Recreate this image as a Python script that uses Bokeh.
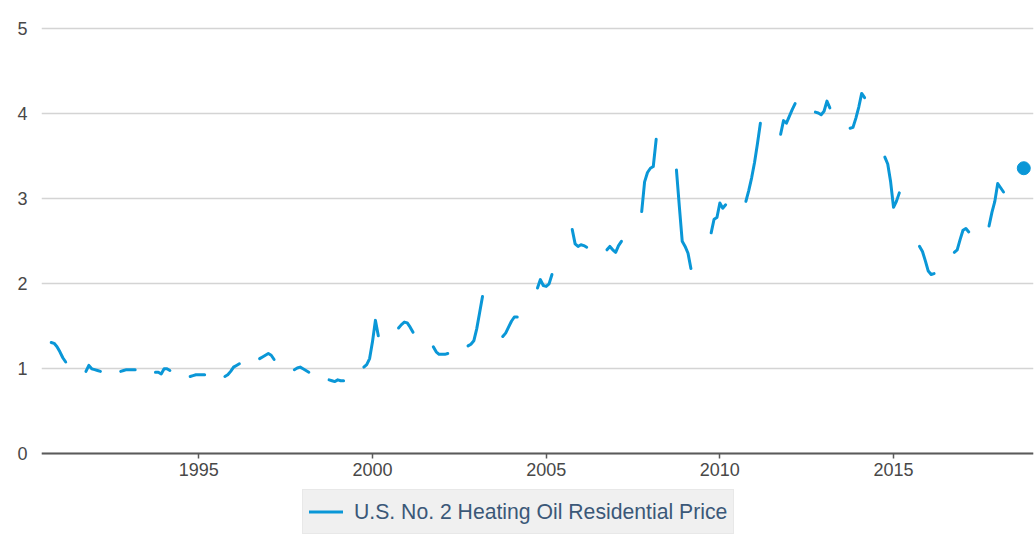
from bokeh.plotting import figure
from bokeh.models import Range1d, FixedTicker, Legend, LegendItem
from bokeh.embed import file_html
from bokeh.resources import INLINE

# Heating seasons (first year of season); monthly data Oct..Mar
season_start_years = [1990, 1991, 1992, 1993, 1994, 1995, 1996, 1997, 1998, 1999,
                      2000, 2001, 2002, 2003, 2004, 2005, 2006, 2007, 2008, 2009,
                      2010, 2011, 2012, 2013, 2014, 2015, 2016, 2017, 2018]
season_months = ["Oct", "Nov", "Dec", "Jan", "Feb", "Mar"]
month_offsets = [9, 10, 11, 12, 13, 14]  # months after Jan of the season's first year

# U.S. No. 2 heating oil residential price ($/gal), per season
prices = [
    [1.31, 1.30, 1.26, 1.20, 1.13, 1.08],
    [0.97, 1.04, 1.00, 0.99, 0.98, 0.97],
    [0.97, 0.98, 0.99, 0.99, 0.99, 0.99],
    [0.96, 0.96, 0.94, 1.00, 1.00, 0.98],
    [0.91, 0.92, 0.93, 0.93, 0.93, 0.93],
    [0.91, 0.93, 0.97, 1.02, 1.04, 1.06],
    [1.12, 1.14, 1.16, 1.18, 1.16, 1.11],
    [0.99, 1.01, 1.02, 1.00, 0.98, 0.96],
    [0.87, 0.86, 0.85, 0.87, 0.86, 0.86],
    [1.02, 1.05, 1.12, 1.32, 1.57, 1.39],
    [1.48, 1.52, 1.55, 1.54, 1.49, 1.43],
    [1.26, 1.20, 1.17, 1.17, 1.17, 1.18],
    [1.27, 1.29, 1.33, 1.47, 1.66, 1.85],
    [1.38, 1.42, 1.49, 1.56, 1.61, 1.61],
    [1.95, 2.05, 1.98, 1.97, 2.00, 2.11],
    [2.64, 2.47, 2.44, 2.46, 2.45, 2.43],
    [2.40, 2.44, 2.40, 2.37, 2.45, 2.50],
    [2.85, 3.20, 3.31, 3.36, 3.38, 3.70],
    [3.34, 2.91, 2.50, 2.44, 2.36, 2.18],
    [2.60, 2.76, 2.78, 2.95, 2.89, 2.93],
    [2.97, 3.10, 3.25, 3.43, 3.65, 3.89],
    [3.76, 3.92, 3.89, 3.97, 4.05, 4.12],
    [4.02, 4.01, 3.99, 4.03, 4.15, 4.07],
    [3.83, 3.84, 3.95, 4.08, 4.24, 4.19],
    [3.49, 3.41, 3.20, 2.90, 2.97, 3.07],
    [2.44, 2.38, 2.27, 2.15, 2.11, 2.12],
    [2.37, 2.40, 2.52, 2.63, 2.65, 2.61],
    [2.68, 2.84, 2.97, 3.18, 3.13, 3.08],
    [3.36],
]

x_tick_years = [1995, 2000, 2005, 2010, 2015]
y_ticks = [0, 1, 2, 3, 4, 5]
series_label = "U.S. No. 2 Heating Oil Residential Price"

BLUE = "#0a97d7"
FONT = "Liberation Sans"

# Build segments
xs, ys, px, py = [], [], [], []
for start, vals in zip(season_start_years, prices):
    sx = [start + month_offsets[i] / 12.0 for i in range(len(vals))]
    if len(vals) > 1:
        xs.append(sx)
        ys.append(list(vals))
    else:
        px.extend(sx)
        py.extend(vals)

p = figure(width=1034, height=552, output_backend="svg", toolbar_location=None,
           x_range=Range1d(1990.47, 2019.03), y_range=Range1d(-1.161, 5.098),
           min_border_left=41, min_border_right=1, min_border_top=20,
           min_border_bottom=0, outline_line_color=None,
           background_fill_color="white", border_fill_color="white")

ml = p.multi_line(xs=xs, ys=ys, line_color=BLUE, line_width=3,
                  line_join="round", line_cap="round")
p.scatter(x=px, y=py, size=13, fill_color=BLUE, line_color=BLUE)

p.xgrid.grid_line_color = None
p.ygrid.ticker = FixedTicker(ticks=y_ticks)
p.ygrid.grid_line_color = "#d4d4d4"
p.ygrid.grid_line_width = 1.5

p.yaxis.ticker = FixedTicker(ticks=y_ticks)
p.yaxis.axis_line_color = None
p.yaxis.major_tick_line_color = None
p.yaxis.minor_tick_line_color = None
p.yaxis.major_tick_out = 0
p.yaxis.major_tick_in = 0
p.yaxis.major_label_standoff = 14
p.yaxis.major_label_text_font = FONT
p.yaxis.major_label_text_font_size = "18px"
p.yaxis.major_label_text_color = "#484848"

p.xaxis.fixed_location = 0
p.xaxis.ticker = FixedTicker(ticks=x_tick_years)
p.xaxis.axis_line_color = "#5a5a5a"
p.xaxis.axis_line_width = 2
p.xaxis.major_tick_line_color = "#5a5a5a"
p.xaxis.major_tick_line_width = 1.5
p.xaxis.minor_tick_line_color = None
p.xaxis.major_tick_out = 5
p.xaxis.major_tick_in = 0
p.xaxis.major_label_standoff = 4
p.xaxis.major_label_text_font = FONT
p.xaxis.major_label_text_font_size = "18px"
p.xaxis.major_label_text_color = "#484848"

legend = Legend(items=[LegendItem(label=series_label, renderers=[ml])],
                location=(261, 18), orientation="horizontal",
                background_fill_color="#f0f0f0", background_fill_alpha=1.0,
                border_line_color="#e0e0e0", border_line_width=1,
                label_text_font=FONT, label_text_font_size="21.2px",
                label_text_color="#3b5878", padding=6, margin=0,
                glyph_width=34, glyph_height=31, label_standoff=11, spacing=0)
p.add_layout(legend, "center")

open("out.html", "w").write(file_html(p, INLINE))
